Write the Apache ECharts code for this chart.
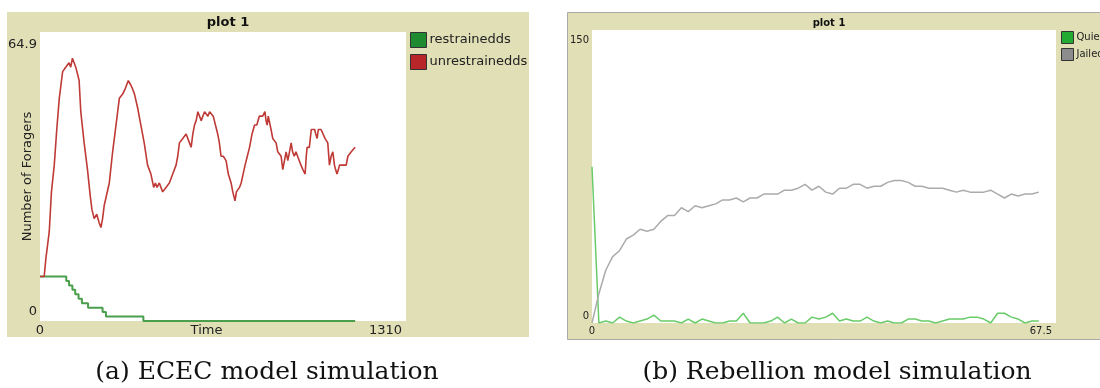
<!DOCTYPE html>
<html>
<head>
<meta charset="utf-8">
<script src="https://cdn.jsdelivr.net/npm/echarts@6/dist/echarts.min.js"></script>
<style>
  html, body { margin: 0; padding: 0; background: #fff; }
  #container { width: 1100px; height: 388px; }
</style>
</head>
<body>
<div id="container"></div>
<script>
// (a) ECEC model: foragers over time
const ececXRange = [0, 1310]
const ececYRange = [0, 64.9]
const restrainedTime = [0, 94, 104, 116, 126, 138, 150, 172, 224, 236, 370, 1128]
const restrainedCount = [10, 9, 8, 7, 6, 5, 4, 3, 2, 1, 0, 0]
const unrestrainedTime = [
  0, 15, 21, 33, 41, 51, 60, 69, 81, 92, 104, 110, 116, 122, 128, 140, 146, 158, 170, 180,
  186, 194, 203, 212, 218, 224, 230, 236, 248, 260, 272, 284, 296, 304, 310, 316, 325, 332, 338, 349,
  361, 373, 385, 397, 407, 413, 419, 427, 433, 439, 445, 451, 457, 463, 469, 475, 481, 487, 493, 499,
  505, 511, 517, 523, 529, 535, 541, 547, 553, 559, 565, 571, 577, 583, 589, 595, 601, 607, 613, 620,
  627, 636, 642, 648, 656, 666, 674, 684, 690, 698, 703, 708, 714, 720, 727, 734, 742, 750, 759, 768,
  776, 785, 791, 797, 805, 809, 813, 817, 821, 827, 833, 839, 845, 851, 857, 863, 869, 875, 881, 887,
  893, 899, 904, 910, 916, 922, 928, 934, 941, 949, 953, 956, 964, 971, 977, 983, 987, 992, 996, 1000,
  1006, 1012, 1020, 1026, 1030, 1036, 1042, 1048, 1054, 1058, 1063, 1068, 1072, 1078, 1084, 1090, 1096, 1102, 1108, 1114,
  1120, 1128
]
const unrestrainedCount = [
  10, 10, 14, 20, 29, 35, 43, 50, 56, 57, 58, 57, 59, 58, 57, 54, 47, 40, 34, 28,
  25, 23, 24, 22, 21, 23, 26, 26, 31, 38, 44, 50, 51, 52, 53, 54, 53, 52, 51, 48,
  44, 40, 35, 33, 30, 31, 30, 31, 31, 29, 29, 30, 30, 31, 32, 33, 33, 35, 37, 40,
  40, 41, 41, 42, 42, 40, 39, 42, 44, 45, 47, 47, 45, 45, 47, 47, 46, 47, 47, 46,
  46, 42, 40, 37, 37, 36, 33, 31, 29, 27, 29, 29, 30, 31, 33, 35, 37, 39, 42, 44,
  44, 46, 46, 46, 47, 45, 44, 46, 46, 43, 41, 41, 40, 38, 38, 37, 34, 36, 38, 36,
  38, 40, 38, 37, 38, 38, 36, 35, 34, 33, 37, 39, 39, 43, 43, 43, 42, 41, 43, 43,
  43, 43, 41, 41, 40, 35, 37, 38, 35, 34, 33, 34, 35, 35, 35, 35, 35, 37, 37, 38,
  38, 39
]

// (b) Rebellion model: one value per tick, 0..65
const rebXRange = [0, 67.5]
const rebYRange = [0, 150]
const quiet = [
  80, 0, 1, 0, 3, 1, 0, 1, 2, 4, 1, 1, 1, 0, 2, 0, 2, 1, 0, 0,
  1, 1, 5, 0, 0, 0, 1, 3, 0, 2, 0, 0, 3, 2, 3, 5, 1, 2, 1, 1,
  3, 1, 0, 1, 0, 0, 2, 2, 1, 1, 0, 1, 2, 2, 2, 3, 3, 2, 0, 5,
  5, 3, 2, 0, 1, 1
]
const jailed = [
  0, 15, 27, 34, 37, 43, 45, 48, 47, 48, 52, 55, 55, 59, 57, 60, 59, 60, 61, 63,
  63, 64, 62, 64, 64, 66, 66, 66, 68, 68, 69, 71, 68, 70, 67, 66, 69, 69, 71, 71,
  69, 70, 70, 72, 73, 73, 72, 70, 70, 69, 69, 69, 68, 67, 68, 67, 67, 67, 68, 66,
  64, 66, 65, 66, 66, 67
]

const captions = ['(a) ECEC model simulation', '(b) Rebellion model simulation']

const beige = '#e0dfb6'
const sans = 'DejaVu Sans'

function pairs(xs, ys) {
  return xs.map((x, i) => [x, ys[i]])
}
function perTick(ys) {
  return ys.map((y, i) => [i, y])
}

// x / y axes that only show min and max, like NetLogo
function rangeX(range, size, extra) {
  return Object.assign({
    type: 'value',
    min: range[0],
    max: range[1],
    interval: range[1] - range[0],
    axisLine: { show: false },
    axisTick: { show: false },
    splitLine: { show: false },
    axisLabel: {
      fontFamily: sans, fontSize: size, color: '#222',
      margin: 3, alignMinLabel: 'center', alignMaxLabel: 'right',
      padding: [0, 4, 0, 4],
      formatter: v => String(v)
    }
  }, extra)
}
function rangeY(range, size, pad, extra) {
  return Object.assign({
    type: 'value',
    min: range[0],
    max: range[1],
    interval: range[1] - range[0],
    axisLine: { show: false },
    axisTick: { show: false },
    splitLine: { show: false },
    axisLabel: {
      fontFamily: sans, fontSize: size, color: '#222',
      margin: 3, padding: pad,
      verticalAlignMinLabel: 'bottom', verticalAlignMaxLabel: 'top',
      formatter: v => String(v)
    }
  }, extra)
}

let chartDom = document.getElementById('container')
let myChart = echarts.init(chartDom, null, { renderer: 'canvas' })

let option = {
  animation: false,
  backgroundColor: '#fff',
  title: [
    {
      text: 'plot 1', left: 223, top: 11, textAlign: 'center',
      textStyle: { fontFamily: sans, fontSize: 13, fontWeight: 'bold', color: '#111' }
    },
    {
      text: 'plot 1', left: 824, top: 13, textAlign: 'center',
      textStyle: { fontFamily: sans, fontSize: 10, fontWeight: 'bold', color: '#111' }
    }
  ],
  legend: [
    {
      orient: 'vertical', left: 410, top: 32, padding: 0,
      icon: 'rect', itemWidth: 16, itemHeight: 15, itemGap: 6,
      itemStyle: { borderColor: '#333', borderWidth: 1 },
      textStyle: { fontFamily: sans, fontSize: 13, color: '#222', padding: [0, 0, 0, -2] },
      data: [
        { name: 'restrainedds', itemStyle: { color: '#1f8b31' } },
        { name: 'unrestrainedds', itemStyle: { color: '#b8262a' } }
      ]
    },
    {
      orient: 'vertical', left: 1061, top: 31, padding: 0,
      icon: 'rect', itemWidth: 12, itemHeight: 12, itemGap: 4,
      itemStyle: { borderColor: '#333', borderWidth: 1 },
      textStyle: { fontFamily: sans, fontSize: 10, color: '#222', padding: [0, 0, 0, -2] },
      data: [
        { name: 'Quiet', itemStyle: { color: '#22aa33' } },
        { name: 'Jailed', itemStyle: { color: '#8c8c8c' } }
      ]
    }
  ],
  grid: [
    {
      left: 40, top: 32, width: 366, height: 289,
      show: true, backgroundColor: '#fff', borderWidth: 0,
      outerBoundsMode: 'none'
    },
    {
      left: 592, top: 30, width: 464, height: 293,
      show: true, backgroundColor: '#fff', borderWidth: 0,
      outerBoundsMode: 'none'
    }
  ],
  xAxis: [
    rangeX(ececXRange, 13, {
      gridIndex: 0,
      name: 'Time', nameLocation: 'middle', nameGap: 3, nameMoveOverlap: false,
      nameTextStyle: { fontFamily: sans, fontSize: 13, color: '#222', padding: [0, 33, 0, 0] }
    }),
    rangeX(rebXRange, 10, { gridIndex: 1 })
  ],
  yAxis: [
    rangeY(ececYRange, 13, [6, 0, 3, 0], {
      gridIndex: 0,
      name: 'Number of Foragers', nameLocation: 'middle', nameGap: 6, nameMoveOverlap: false,
      nameTextStyle: { fontFamily: sans, fontSize: 13, color: '#222' }
    }),
    rangeY(rebYRange, 10, [5, 0, 2, 0], { gridIndex: 1 })
  ],
  graphic: [
    {
      type: 'rect', z: -10, silent: true,
      shape: { x: 7, y: 12, width: 522, height: 325 },
      style: { fill: beige }
    },
    {
      type: 'rect', z: -10, silent: true,
      shape: { x: 567.5, y: 12.5, width: 540, height: 327 },
      style: { fill: beige, stroke: '#a9a9a9', lineWidth: 1 }
    },
    {
      type: 'text', silent: true,
      style: {
        text: captions[0], x: 267, y: 372, align: 'center', verticalAlign: 'middle',
        font: '25px "DejaVu Serif"', fill: '#111'
      }
    },
    {
      type: 'text', silent: true,
      style: {
        text: captions[1], x: 837, y: 372, align: 'center', verticalAlign: 'middle',
        font: '25px "DejaVu Serif"', fill: '#111'
      }
    }
  ],
  series: [
    {
      name: 'restrainedds', type: 'line', xAxisIndex: 0, yAxisIndex: 0,
      data: pairs(restrainedTime, restrainedCount),
      step: 'end', showSymbol: false,
      itemStyle: { color: '#1f8b31' },
      lineStyle: { color: '#4a9e4c', width: 2 }
    },
    {
      name: 'unrestrainedds', type: 'line', xAxisIndex: 0, yAxisIndex: 0,
      data: pairs(unrestrainedTime, unrestrainedCount),
      showSymbol: false,
      itemStyle: { color: '#b8262a' },
      lineStyle: { color: '#bf3a36', width: 1.6 }
    },
    {
      name: 'Quiet', type: 'line', xAxisIndex: 1, yAxisIndex: 1,
      data: perTick(quiet), showSymbol: false,
      itemStyle: { color: '#22aa33' },
      lineStyle: { color: '#6acb6a', width: 1.5 }
    },
    {
      name: 'Jailed', type: 'line', xAxisIndex: 1, yAxisIndex: 1,
      data: perTick(jailed), showSymbol: false,
      itemStyle: { color: '#8c8c8c' },
      lineStyle: { color: '#ababab', width: 1.5 }
    }
  ]
}

option && myChart.setOption(option)
</script>
</body>
</html>
